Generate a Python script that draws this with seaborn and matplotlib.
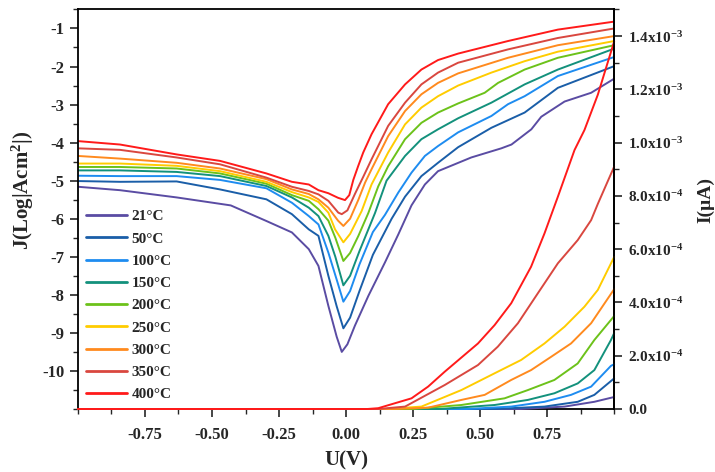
import numpy as np
import matplotlib
matplotlib.use("Agg")
import matplotlib.pyplot as plt
import seaborn as sns
from matplotlib.ticker import MultipleLocator

sns.set_style("ticks")
plt.rcParams['font.family'] = ['Liberation Serif', 'DejaVu Serif']
plt.rcParams['font.weight'] = 'bold'
plt.rcParams['axes.labelweight'] = 'bold'
plt.rcParams['axes.unicode_minus'] = False
plt.rcParams['mathtext.fontset'] = 'custom'
plt.rcParams['mathtext.rm'] = 'Liberation Serif:bold'
plt.rcParams['mathtext.it'] = 'Liberation Serif:bold'
plt.rcParams['mathtext.bf'] = 'Liberation Serif:bold'

labels = ['21°C', '50°C', '100°C', '150°C', '200°C', '250°C', '300°C', '350°C', '400°C']
colors = ['#5a4ca3', '#1a5ea8', '#1e8cf0', '#13917c', '#6cc21a', '#ffcc00', '#ff8a1e', '#d9473f', '#ff1a1a']

# J curves (left axis, log current density)
v_j_21 = [-1.0, -0.843, -0.632, -0.43, -0.297, -0.202, -0.139, -0.103, -0.066, -0.035, -0.016, 0.005,
          0.033, 0.083, 0.145, 0.195, 0.244, 0.294, 0.343, 0.467, 0.579, 0.617, 0.691, 0.728, 0.815,
          0.914, 1.0]
j_21 = [-5.16, -5.25, -5.44, -5.65, -6.06, -6.36, -6.80, -7.24, -8.29, -9.10, -9.50, -9.30,
        -8.81, -8.03, -7.15, -6.41, -5.65, -5.10, -4.75, -4.39, -4.15, -4.05, -3.65, -3.32, -2.92,
        -2.69, -2.32]
v_j_50 = [-1.0, -0.843, -0.632, -0.47, -0.297, -0.202, -0.139, -0.103, -0.066, -0.035, -0.01, 0.015,
          0.05, 0.10, 0.17, 0.22, 0.281, 0.343, 0.418, 0.542, 0.666, 0.79, 1.0]
j_50 = [-5.01, -5.03, -5.02, -5.23, -5.49, -5.88, -6.28, -6.45, -7.50, -8.30, -8.88, -8.60,
        -7.90, -6.95, -6.00, -5.42, -4.88, -4.53, -4.12, -3.61, -3.21, -2.56, -1.99]
v_j_100 = [-1.0, -0.843, -0.632, -0.47, -0.297, -0.202, -0.139, -0.103, -0.066, -0.035, -0.01, 0.015,
           0.05, 0.10, 0.145, 0.195, 0.244, 0.294, 0.343, 0.418, 0.542, 0.604, 0.666, 0.79, 1.0]
j_100 = [-4.87, -4.88, -4.88, -4.98, -5.20, -5.58, -5.93, -6.15, -6.89, -7.60, -8.18, -7.90,
         -7.20, -6.35, -5.90, -5.31, -4.79, -4.35, -4.09, -3.73, -3.30, -2.99, -2.78, -2.25, -1.75]
v_j_150 = [-1.0, -0.843, -0.632, -0.47, -0.297, -0.202, -0.139, -0.103, -0.066, -0.04, -0.01, 0.015,
           0.05, 0.108, 0.151, 0.22, 0.281, 0.343, 0.418, 0.542, 0.666, 0.79, 1.0]
j_150 = [-4.73, -4.73, -4.77, -4.88, -5.14, -5.44, -5.71, -5.93, -6.45, -7.00, -7.75, -7.50,
         -6.85, -5.85, -5.00, -4.35, -3.91, -3.65, -3.36, -2.95, -2.47, -2.08, -1.53]
v_j_200 = [-1.0, -0.843, -0.632, -0.47, -0.297, -0.202, -0.139, -0.103, -0.066, -0.04, -0.01, 0.015,
           0.046, 0.083, 0.12, 0.157, 0.22, 0.281, 0.343, 0.418, 0.517, 0.567, 0.666, 0.79, 1.0]
j_200 = [-4.64, -4.64, -4.68, -4.81, -5.08, -5.38, -5.53, -5.75, -6.05, -6.50, -7.11, -6.90,
         -6.45, -5.85, -5.15, -4.62, -3.91, -3.48, -3.21, -2.97, -2.69, -2.43, -2.08, -1.77, -1.44]
v_j_250 = [-1.0, -0.843, -0.632, -0.47, -0.297, -0.202, -0.139, -0.103, -0.066, -0.041, -0.01, 0.015,
           0.058, 0.095, 0.157, 0.22, 0.281, 0.343, 0.418, 0.542, 0.666, 0.79, 1.0]
j_250 = [-4.55, -4.55, -4.61, -4.75, -5.03, -5.30, -5.44, -5.56, -5.84, -6.28, -6.62, -6.40,
         -5.80, -5.10, -4.26, -3.52, -3.08, -2.78, -2.50, -2.16, -1.86, -1.61, -1.33]
v_j_300 = [-1.0, -0.843, -0.632, -0.47, -0.297, -0.202, -0.139, -0.103, -0.066, -0.03, -0.01, 0.015,
           0.046, 0.071, 0.095, 0.157, 0.22, 0.281, 0.343, 0.418, 0.604, 0.79, 1.0]
j_300 = [-4.35, -4.42, -4.53, -4.68, -4.96, -5.23, -5.35, -5.49, -5.71, -6.05, -6.19, -6.00,
         -5.50, -5.05, -4.70, -3.83, -3.17, -2.73, -2.43, -2.18, -1.77, -1.44, -1.20]
v_j_350 = [-1.0, -0.843, -0.632, -0.47, -0.297, -0.202, -0.139, -0.103, -0.066, -0.029, -0.016, 0.005,
           0.033, 0.064, 0.095, 0.157, 0.22, 0.281, 0.343, 0.418, 0.604, 0.79, 1.0]
j_350 = [-4.15, -4.19, -4.39, -4.57, -4.92, -5.16, -5.27, -5.36, -5.53, -5.84, -5.88, -5.78,
         -5.35, -4.90, -4.44, -3.56, -2.95, -2.47, -2.16, -1.90, -1.55, -1.25, -1.0]
v_j_400 = [-1.0, -0.843, -0.632, -0.47, -0.297, -0.202, -0.139, -0.103, -0.066, -0.03, -0.004, 0.012,
           0.027, 0.045, 0.064, 0.095, 0.157, 0.22, 0.281, 0.343, 0.418, 0.604, 0.79, 1.0]
j_400 = [-3.96, -4.05, -4.31, -4.48, -4.81, -5.03, -5.10, -5.25, -5.33, -5.45, -5.51, -5.38,
         -4.98, -4.62, -4.26, -3.78, -2.99, -2.47, -2.08, -1.83, -1.66, -1.33, -1.03, -0.82]

# I curves (right axis), in units of 1e-4
v_i_21 = [-1.0, 0.65, 0.815, 0.926, 1.0]
i_21 = [0, 0, 0.09, 0.27, 0.45]
v_i_50 = [-1.0, 0.55, 0.74, 0.864, 0.926, 1.0]
i_50 = [0, 0, 0.09, 0.27, 0.53, 1.15]
v_i_100 = [-1.0, 0.45, 0.616, 0.74, 0.839, 0.914, 0.988, 1.0]
i_100 = [0, 0, 0.09, 0.27, 0.53, 0.84, 1.62, 1.68]
v_i_150 = [-1.0, 0.35, 0.554, 0.678, 0.777, 0.864, 0.926, 0.988, 1.0]
i_150 = [0, 0, 0.15, 0.34, 0.59, 0.96, 1.46, 2.59, 2.85]
v_i_200 = [-1.0, 0.25, 0.43, 0.591, 0.678, 0.777, 0.864, 0.926, 1.0]
i_200 = [0, 0, 0.15, 0.40, 0.71, 1.09, 1.71, 2.59, 3.49]
v_i_250 = [-1.0, 0.15, 0.281, 0.43, 0.554, 0.653, 0.74, 0.815, 0.889, 0.939, 1.0]
i_250 = [0, 0, 0.09, 0.71, 1.34, 1.84, 2.46, 3.09, 3.84, 4.47, 5.71]
v_i_300 = [-1.0, 0.18, 0.306, 0.43, 0.517, 0.616, 0.69, 0.765, 0.839, 0.914, 1.0]
i_300 = [0, 0, 0.05, 0.34, 0.53, 1.09, 1.46, 1.96, 2.46, 3.22, 4.5]
v_i_350 = [-1.0, 0.12, 0.22, 0.368, 0.492, 0.566, 0.641, 0.715, 0.79, 0.864, 0.914, 0.939, 1.0]
i_350 = [0, 0, 0.09, 0.90, 1.65, 2.34, 3.22, 4.34, 5.47, 6.34, 7.09, 7.7, 9.1]
v_i_400 = [-1.0, 0.08, 0.12, 0.244, 0.306, 0.368, 0.492, 0.554, 0.616, 0.69, 0.74, 0.79, 0.852, 0.889,
           0.939, 1.0]
i_400 = [0, 0, 0.03, 0.40, 0.84, 1.40, 2.46, 3.15, 3.97, 5.34, 6.59, 7.97, 9.72, 10.47, 11.8, 13.8]

j_curves = [(v_j_21, j_21), (v_j_50, j_50), (v_j_100, j_100), (v_j_150, j_150), (v_j_200, j_200),
            (v_j_250, j_250), (v_j_300, j_300), (v_j_350, j_350), (v_j_400, j_400)]
i_curves = [(v_i_21, i_21), (v_i_50, i_50), (v_i_100, i_100), (v_i_150, i_150), (v_i_200, i_200),
            (v_i_250, i_250), (v_i_300, i_300), (v_i_350, i_350), (v_i_400, i_400)]

x_ticks = [-0.75, -0.50, -0.25, 0.00, 0.25, 0.50, 0.75]
x_tick_labels = ['-0.75', '-0.50', '-0.25', '0.00', '0.25', '0.50', '0.75']
j_ticks = [-1, -2, -3, -4, -5, -6, -7, -8, -9, -10]
i_ticks = [0, 2e-4, 4e-4, 6e-4, 8e-4, 1.0e-3, 1.2e-3, 1.4e-3]
i_tick_labels = ['0.0', r'2.0x10$^{-4}$', r'4.0x10$^{-4}$', r'6.0x10$^{-4}$', r'8.0x10$^{-4}$',
                 r'1.0x10$^{-3}$', r'1.2x10$^{-3}$', r'1.4x10$^{-3}$']

fig = plt.figure(figsize=(7.15, 4.72), dpi=100)
ax = fig.add_axes([0.109, 0.1335, 0.750, 0.8465])
ax2 = ax.twinx()

for (v, j), lab, c in zip(j_curves, labels, colors):
    sns.lineplot(x=v, y=j, ax=ax, color=c, label=lab, lw=1.4, sort=False, estimator=None)

for (v, i), c in zip(i_curves, colors):
    sns.lineplot(x=v, y=np.array(i) * 1e-4, ax=ax2, color=c, lw=1.4, sort=False,
                 estimator=None, legend=False, clip_on=False)

ax.set_xlim(-1, 1)
ax.set_ylim(-11, -0.5)
ax2.set_ylim(0, 1.5e-3)

ax.set_xticks(x_ticks)
ax.set_xticklabels(x_tick_labels)
ax.xaxis.set_minor_locator(MultipleLocator(0.125))
ax.set_yticks(j_ticks)
ax.set_yticklabels([str(t) for t in j_ticks])
ax.yaxis.set_minor_locator(MultipleLocator(0.5))
ax2.set_yticks(i_ticks)
ax2.set_yticklabels(i_tick_labels)
ax2.yaxis.set_minor_locator(MultipleLocator(1e-4))

for a in (ax, ax2):
    a.tick_params(which='major', direction='out', length=6, width=1.2, labelsize=12)
    a.tick_params(which='minor', direction='out', length=3.5, width=1.0)
    for s in a.spines.values():
        s.set_linewidth(1.3)
        s.set_color('black')
ax.tick_params(axis='x', which='major', pad=7)
ax2.tick_params(axis='y', labelsize=11, pad=4)
for side in ('bottom', 'top', 'left'):
    ax2.spines[side].set_visible(False)

ax.set_xlabel('U(V)', fontsize=15, fontweight='bold', labelpad=5)
ax.set_ylabel(r'J(Log|Acm$^{2}$|)', fontsize=15, fontweight='bold')
ax.yaxis.set_label_coords(-0.078, 0.548)
ax2.set_ylabel('I(µA)', fontsize=14, fontweight='bold')
ax2.yaxis.set_label_coords(1.155, 0.523)

leg = ax.legend(loc='lower left', bbox_to_anchor=(0.0, 0.0), frameon=False, fontsize=11,
                handlelength=2.7, handletextpad=0.3, labelspacing=0.56, borderaxespad=0.1)
for line in leg.get_lines():
    line.set_linewidth(2.0)

fig.savefig('out.png', dpi=100)
